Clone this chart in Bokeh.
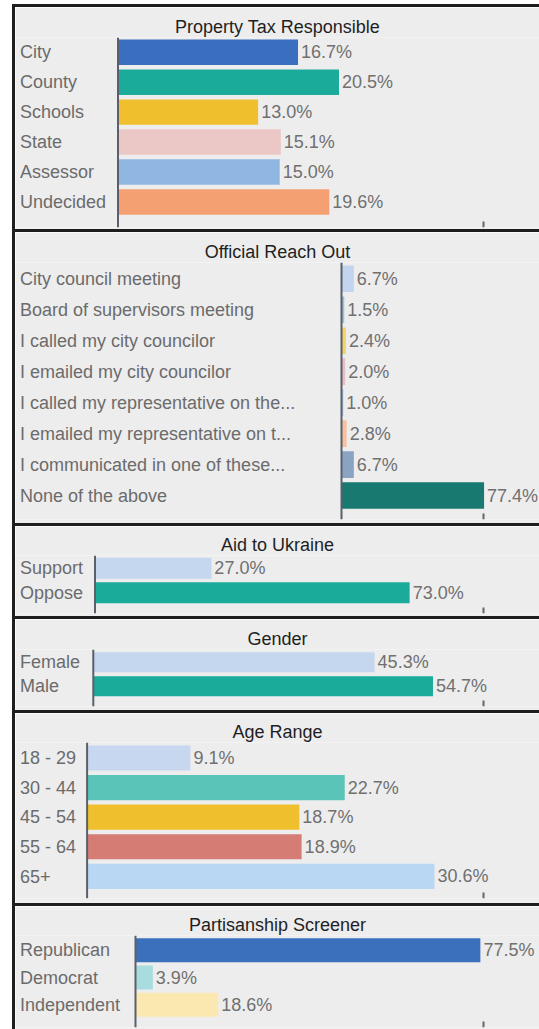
from bokeh.plotting import figure
from bokeh.models import Range1d, Span, ColumnDataSource, Div
from bokeh.layouts import column, row
from bokeh.embed import file_html
from bokeh.resources import INLINE
from bokeh.core.properties import value

# ---------------- data ----------------
tax_title = "Property Tax Responsible"
tax_cats = ["City", "County", "Schools", "State", "Assessor", "Undecided"]
tax_vals = [16.7, 20.5, 13.0, 15.1, 15.0, 19.6]

reach_title = "Official Reach Out"
reach_cats = ["City council meeting", "Board of supervisors meeting",
              "I called my city councilor", "I emailed my city councilor",
              "I called my representative on the...", "I emailed my representative on t...",
              "I communicated in one of these...", "None of the above"]
reach_vals = [6.7, 1.5, 2.4, 2.0, 1.0, 2.8, 6.7, 77.4]

ukraine_title = "Aid to Ukraine"
ukraine_cats = ["Support", "Oppose"]
ukraine_vals = [27.0, 73.0]

gender_title = "Gender"
gender_cats = ["Female", "Male"]
gender_vals = [45.3, 54.7]

age_title = "Age Range"
age_cats = ["18 - 29", "30 - 44", "45 - 54", "55 - 64", "65+"]
age_vals = [9.1, 22.7, 18.7, 18.9, 30.6]

party_title = "Partisanship Screener"
party_cats = ["Republican", "Democrat", "Independent"]
party_vals = [77.5, 3.9, 18.6]

# ---------------- styles ----------------
tax_colors = ["#3a6fbf", "#1aab9b", "#efbf2e", "#ebc7c5", "#90b7e2", "#f4a073"]
reach_colors = ["#c3d5ee", "#9cc3d9", "#f3d36a", "#e6bfc6", "#a8c8ea", "#f8c0a0", "#8aa3c3", "#17796f"]
ukraine_colors = ["#c5d6ef", "#1aab9b"]
gender_colors = ["#c5d6ef", "#1aab9b"]
age_colors = ["#c6d7ef", "#5ac4b8", "#efbf2e", "#d57d75", "#b9d6f2"]
party_colors = ["#3b70bd", "#a8dcde", "#fae8b0"]

W = 524
BG = "#ededee"
BORDER = "#1e1e1e"
FONT = "Liberation Sans"
TICK_PX = 468


def make_panel(title, cats, vals, colors, band, frame_h, gap, axis_px, px_per_pct,
               top_pad, bot_pad, bar_frac):
    n = len(cats)
    x0 = -axis_px / px_per_pct
    x1 = (W - axis_px) / px_per_pct
    y_bot = n - 1 + bot_pad
    p = figure(width=W, height=band + frame_h + gap, output_backend="svg",
               toolbar_location=None,
               x_range=Range1d(x0, x1), y_range=Range1d(y_bot, -top_pad),
               min_border_left=0, min_border_right=0, min_border_bottom=gap,
               min_border_top=band)
    p.background_fill_color = BG
    p.border_fill_color = BG
    p.outline_line_color = None
    p.grid.visible = False
    p.xaxis.visible = False
    p.yaxis.visible = False

    p.title.text = title
    p.title.align = "center"
    p.title.text_font = FONT
    p.title.text_font_size = "18px"
    p.title.text_font_style = "normal"
    p.title.text_color = "#1f1f1f"
    p.title.standoff = 1

    src = ColumnDataSource(dict(
        y=list(range(n)), cat=cats, val=vals, color=colors,
        lab=[f"{v:.1f}%" for v in vals],
        lx=[x0 + 4.5 / px_per_pct] * n,
        vx=[v + 3 / px_per_pct for v in vals],
    ))
    p.hbar(y="y", left=0, right="val", height=bar_frac, fill_color="color",
           line_color=None, source=src)
    p.add_layout(Span(location=0, dimension="height", line_color="#5a6068", line_width=2))

    # small axis tick mark near the right end of the scale
    pitch = frame_h / (n - 1 + bot_pad + top_pad)
    tick_val = (TICK_PX - axis_px) / px_per_pct
    p.segment(x0=[tick_val], x1=[tick_val], y0=[y_bot], y1=[y_bot - 6 / pitch],
              line_color="#666666", line_width=2)

    p.text(x="lx", y="y", text="cat", source=src, text_font=value(FONT),
           text_font_size=value("18px"), text_color="#6b6b6b",
           text_align="left", text_baseline="middle")
    p.text(x="vx", y="y", text="lab", source=src, text_font=value(FONT),
           text_font_size=value("18px"), text_color="#707070",
           text_align="left", text_baseline="middle")
    return p


p1 = make_panel(tax_title, tax_cats, tax_vals, tax_colors,
                30, 190, 2, 102.5, 10.78, 0.49, 0.85, 0.85)
p2 = make_panel(reach_title, reach_cats, reach_vals, reach_colors,
                30, 257, 4, 326, 1.842, 0.526, 0.774, 0.86)
p3 = make_panel(ukraine_title, ukraine_cats, ukraine_vals, ukraine_colors,
                29, 58, 3, 79.5, 4.31, 0.525, 0.852, 0.86)
p4 = make_panel(gender_title, gender_cats, gender_vals, gender_colors,
                30, 57, 4, 77.8, 6.21, 0.53, 0.846, 0.84)
p5 = make_panel(age_title, age_cats, age_vals, age_colors,
                29, 156, 5, 71.6, 11.35, 0.524, 0.75, 0.85)
p6 = make_panel(party_title, party_cats, party_vals, party_colors,
                29, 92, 2, 120, 4.45, 0.54, 0.83, 0.88)


def hline():
    return Div(text="", width=W, height=3, margin=0, styles={"background-color": BORDER})


panels = [p1, p2, p3, p4, p5, p6]
items = []
for pp in panels:
    items.append(hline())
    items.append(pp)
body_h = 3 * 6 + sum(pp.height for pp in panels)
col = column(*items, spacing=0, margin=0)

left_gap = Div(text="", width=12, height=body_h, margin=0)
left_border = Div(text="", width=3, height=body_h, margin=0,
                  styles={"background-color": BORDER})
top_gap = Div(text="", width=12 + 3 + W, height=4, margin=0)
layout = column(top_gap, row(left_gap, left_border, col, spacing=0, margin=0),
                spacing=0, margin=0)

open("out.html", "w").write(file_html(layout, INLINE))
